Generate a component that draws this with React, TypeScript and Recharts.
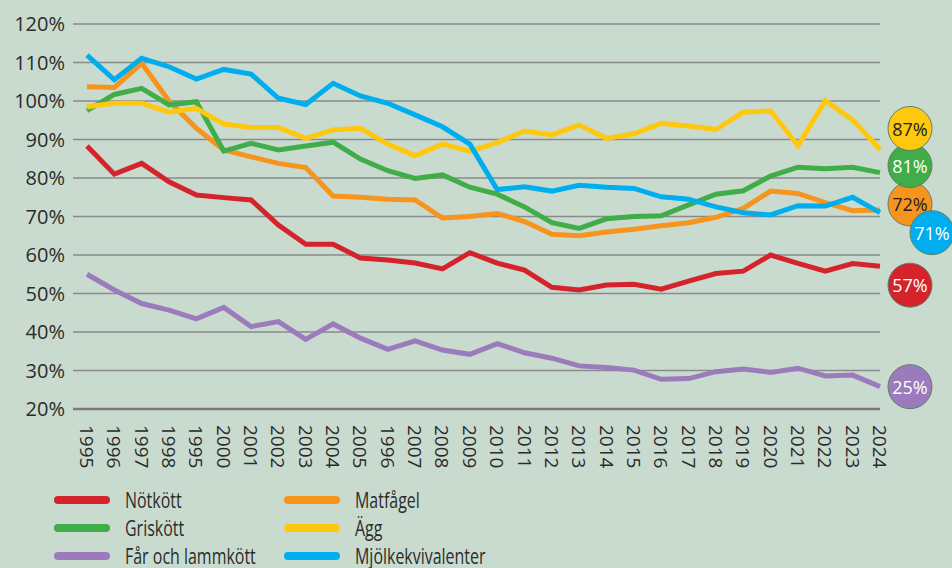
import { LineChart, Line, XAxis, YAxis, CartesianGrid, LabelList } from 'recharts';

// År (faktiska) och etiketter som de står i originalet
const years = [
  1995, 1996, 1997, 1998, 1999, 2000, 2001, 2002, 2003, 2004, 2005, 2006, 2007, 2008, 2009,
  2010, 2011, 2012, 2013, 2014, 2015, 2016, 2017, 2018, 2019, 2020, 2021, 2022, 2023, 2024,
];
const yearLabels = [
  '1995', '1996', '1997', '1998', '1995', '2000', '2001', '2002', '2003', '2004', '2005', '1996', '2007', '2008', '2009',
  '2010', '2011', '2012', '2013', '2014', '2015', '2016', '2017', '2018', '2019', '2020', '2021', '2022', '2023', '2024',
];
const yTicks = [20, 30, 40, 50, 60, 70, 80, 90, 100, 110, 120];

const notkott = [88.3, 81, 83.8, 79, 75.6, 74.9, 74.3, 67.8, 62.8, 62.8, 59.2, 58.7, 57.9, 56.4, 60.6, 57.9, 56.1, 51.6, 50.9, 52.2, 52.4, 51.1, 53.2, 55.2, 55.8, 60, 57.8, 55.8, 57.8, 57.1];
const griskott = [97.5, 101.7, 103.3, 99, 99.8, 87, 89, 87.3, 88.3, 89.3, 84.9, 81.9, 79.9, 80.8, 77.6, 75.8, 72.5, 68.4, 66.9, 69.4, 70, 70.2, 73, 75.8, 76.7, 80.5, 82.8, 82.4, 82.8, 81.4];
const farLamm = [55, 50.9, 47.4, 45.7, 43.4, 46.4, 41.4, 42.7, 38.1, 42.1, 38.4, 35.5, 37.7, 35.3, 34.2, 37, 34.6, 33.2, 31.2, 30.8, 30.1, 27.7, 27.9, 29.7, 30.4, 29.5, 30.6, 28.6, 28.8, 25.8];
const matfagel = [103.7, 103.5, 109.8, 100, 92.9, 87.3, 85.5, 83.8, 82.7, 75.3, 75, 74.5, 74.3, 69.6, 70, 70.8, 68.7, 65.4, 65, 66, 66.7, 67.6, 68.4, 69.8, 72.1, 76.6, 76, 73.6, 71.5, 71.7];
const agg = [98.5, 99.4, 99.4, 97.1, 98.1, 94, 93.1, 93.1, 90.3, 92.5, 92.9, 88.8, 85.8, 88.8, 87, 89.2, 92.2, 91.2, 93.8, 90.3, 91.5, 94.2, 93.5, 92.6, 97.1, 97.4, 88.4, 100.1, 95.1, 87.4];
const mjolk = [111.9, 105.5, 111.1, 108.9, 105.7, 108.2, 107, 100.7, 99.1, 104.6, 101.3, 99.4, 96.4, 93.3, 88.8, 77, 77.7, 76.6, 78.1, 77.6, 77.3, 75.1, 74.5, 72.5, 71, 70.4, 72.8, 72.7, 75, 71];

const endLabels = { notkott: '57%', griskott: '81%', farLamm: '25%', matfagel: '72%', agg: '87%', mjolk: '71%' };

const data = years.map((y, i) => ({
  year: y,
  notkott: notkott[i],
  griskott: griskott[i],
  farLamm: farLamm[i],
  matfagel: matfagel[i],
  agg: agg[i],
  mjolk: mjolk[i],
}));

const BG = '#c9dbcf';
const FONT = '"Open Sans", "Noto Sans", sans-serif';

// ritordning: underst först
const series = [
  { key: 'farLamm', name: 'Får och lammkött', color: '#9b7bbb', text: '#fff', dx: 30, dy: 0 },
  { key: 'notkott', name: 'Nötkött', color: '#d5232b', text: '#fff', dx: 30, dy: 19 },
  { key: 'matfagel', name: 'Matfågel', color: '#f7941e', text: '#222', dx: 30, dy: -6 },
  { key: 'griskott', name: 'Griskött', color: '#40ad49', text: '#fff', dx: 30, dy: -7 },
  { key: 'agg', name: 'Ägg', color: '#fec80f', text: '#222', dx: 30, dy: -21 },
  { key: 'mjolk', name: 'Mjölkekvivalenter', color: '#00aeef', text: '#fff', dx: 52, dy: 20 },
];

const legendLeft = ['notkott', 'griskott', 'farLamm'];
const legendRight = ['matfagel', 'agg', 'mjolk'];

const YearTick = (props: any) => {
  const { x, y, payload } = props;
  return (
    <text
      x={x}
      y={y}
      dx={14}
      transform={`rotate(90, ${x}, ${y})`}
      textAnchor="start"
      dominantBaseline="central"
      fill="#2b2b2b"
      fontSize={19}
      fontFamily={FONT}
    >
      {yearLabels[payload.index]}
    </text>
  );
};

const makeEndLabel = (s: typeof series[number]) => (props: any) => {
  const { x, y, index } = props;
  if (index !== years.length - 1) return null;
  const cx = x + s.dx;
  const cy = y + s.dy;
  return (
    <g>
      <circle cx={cx} cy={cy} r={22} fill={s.color} stroke="#5f7f66" strokeWidth={1} />
      <text x={cx} y={cy} textAnchor="middle" dominantBaseline="central" fill={s.text} fontSize={18} fontFamily={FONT}>
        {(endLabels as any)[s.key]}
      </text>
    </g>
  );
};

const LegendRow = ({ k }: { k: string }) => {
  const s = series.find((d) => d.key === k)!;
  return (
    <div style={{ display: 'flex', alignItems: 'center', height: 28 }}>
      <div style={{ width: 56, height: 8, borderRadius: 4, background: s.color, marginRight: 15, flexShrink: 0 }} />
      <span
        style={{
          fontSize: 21,
          lineHeight: 1,
          color: '#2b2b2b',
          display: 'inline-block',
          whiteSpace: 'nowrap',
          transform: 'scaleX(0.76)',
          transformOrigin: 'left center',
        }}
      >
        {s.name}
      </span>
    </div>
  );
};

export default function App() {
  return (
    <div style={{ width: 952, height: 568, background: BG, fontFamily: FONT, position: 'relative', overflow: 'hidden' }}>
      <style>{`body{margin:0}`}</style>
      <LineChart width={952} height={480} data={data} margin={{ top: 24, right: 72, bottom: 0, left: 0 }}>
        <CartesianGrid vertical={false} stroke="#8a8a8a" strokeWidth={1.5} />
        <XAxis
          dataKey="year"
          interval={0}
          padding={{ left: 14, right: 0 }}
          height={71}
          tickLine={false}
          tickSize={0}
          axisLine={{ stroke: '#7a7a7a', strokeWidth: 2.5 }}
          tick={<YearTick />}
        />
        <YAxis
          domain={[20, 120]}
          ticks={yTicks}
          width={73}
          axisLine={false}
          tickLine={false}
          tickSize={0}
          tickMargin={8}
          tickFormatter={(v) => `${v}%`}
          tick={{ fill: '#2b2b2b', fontSize: 20, fontFamily: FONT }}
        />
        {series.map((s) => (
          <Line
            key={s.key}
            dataKey={s.key}
            name={s.name}
            stroke={s.color}
            strokeWidth={5}
            dot={false}
            type="linear"
            isAnimationActive={false}
          >
            <LabelList dataKey={s.key} content={makeEndLabel(s)} />
          </Line>
        ))}
      </LineChart>
      <div style={{ position: 'absolute', left: 54, top: 486, display: 'flex' }}>
        <div style={{ width: 230 }}>
          {legendLeft.map((k) => (
            <LegendRow key={k} k={k} />
          ))}
        </div>
        <div>
          {legendRight.map((k) => (
            <LegendRow key={k} k={k} />
          ))}
        </div>
      </div>
    </div>
  );
}
